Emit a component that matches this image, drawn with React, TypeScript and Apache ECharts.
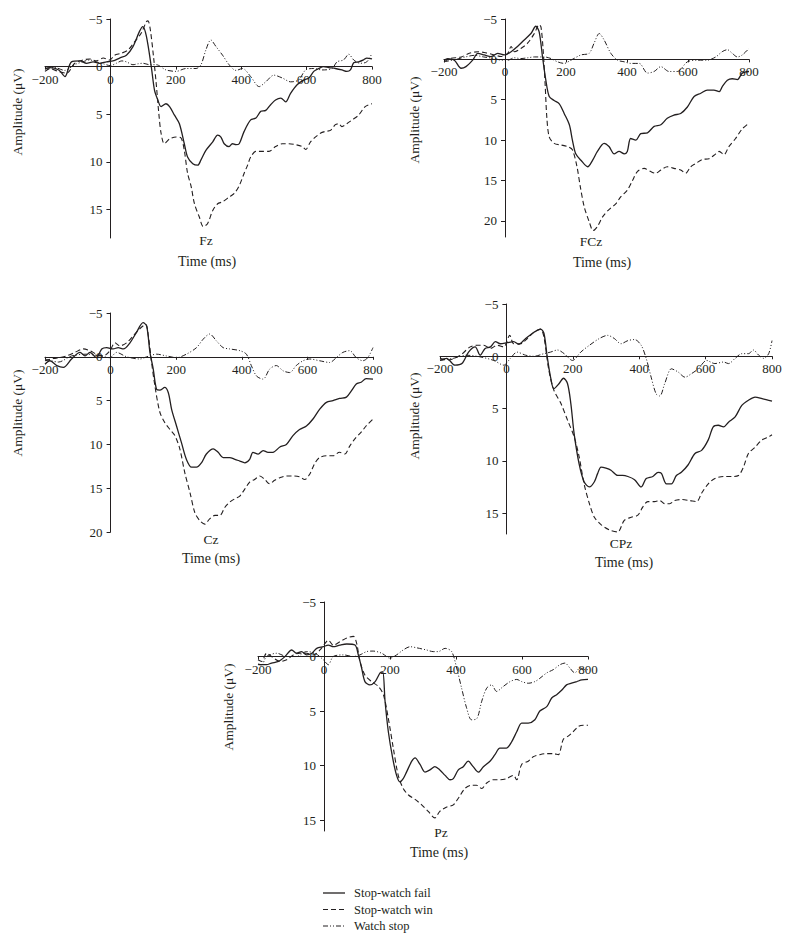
import React, { useEffect, useRef } from "react";
import * as echarts from "echarts";

// ---------- DATA (time in ms, amplitude in µV) ----------
const seriesNames = ["Stop-watch fail", "Stop-watch win", "Watch stop"];
const panelLabels = ["Fz", "FCz", "Cz", "CPz", "Pz"];
const xTicks = [-200, 0, 200, 400, 600, 800];
const yMaxes = [18, 22, 20, 17, 16];
const yTickFz = [-5, 0, 5, 10, 15];
const yTickFCz = [-5, 0, 5, 10, 15, 20];
const yTickCz = [-5, 0, 5, 10, 15, 20];
const yTickCPz = [-5, 0, 5, 10, 15];
const yTickPz = [-5, 0, 5, 10, 15];

const fzFail = [[-200,0.2],[-185,0.1],[-158,0.35],[-144,0.9],[-139,1.05],[-119,-0.5],[-93,-0.6],[-73,-0.35],[-53,-0.5],[-32,-0.35],[-12,-0.5],[8,-0.6],[28,-0.9],[49,-1.2],[69,-2.1],[89,-3.7],[99,-4.2],[110,-3.2],[125,0],[135,2.5],[145,3.5],[155,4.2],[170,3.9],[181,4.2],[196,5.1],[211,6],[226,8.1],[236,9.5],[252,10.2],[267,10.35],[277,9.8],[292,8.8],[313,7.9],[328,7.2],[338,7.4],[348,8.1],[363,8.4],[373,8.1],[384,8.2],[394,8.1],[409,6.8],[429,5.6],[445,5.4],[460,4.7],[475,4.6],[490,4],[505,3.5],[521,3.3],[536,3.7],[551,2.8],[571,1.9],[592,1.4],[607,1.2],[622,0.5],[637,0.2],[652,0],[668,0.1],[688,0.2],[708,0.35],[723,0.5],[734,0.35],[744,-0.4],[759,-0.5],[774,-0.7],[784,-0.9],[800,-0.8]];
const fzWin = [[-200,0.5],[-185,0.2],[-160,0.5],[-134,0.7],[-109,-0.35],[-83,-0.7],[-63,-0.8],[-43,-0.6],[-22,-0.9],[-2,-0.7],[13,-1.2],[33,-1.4],[54,-1.75],[74,-2.6],[94,-3.5],[110,-4.7],[115,-4.8],[122,-3.9],[132,-1],[140,1.75],[148,4.9],[155,7],[165,8.1],[181,7.6],[201,7.4],[216,7.5],[226,8.8],[236,11.2],[247,12.6],[257,14.4],[272,15.8],[284,16.8],[297,16.5],[313,15.1],[328,14.4],[343,14.2],[363,13.7],[379,13.3],[394,12.5],[409,11.2],[419,10.4],[429,9.5],[445,8.9],[465,8.9],[485,8.9],[505,8.4],[526,8.1],[546,8.1],[566,8.2],[587,8.4],[597,8.7],[612,7.9],[627,7.4],[642,7],[658,6.8],[673,6.7],[688,6.1],[698,6],[708,6.3],[723,6],[739,5.6],[759,5.1],[779,4.2],[800,3.9]];
const fzStop = [[-200,0.2],[-170,0.1],[-140,0.4],[-110,-0.2],[-85,-0.5],[-63,-0.7],[-43,-0.5],[-22,-0.3],[0,-0.1],[18,-0.35],[35,-0.6],[49,-0.5],[69,-0.2],[85,-0.3],[99,-0.35],[120,-0.2],[140,-0.2],[170,0.35],[201,0.5],[231,0.2],[262,0.2],[277,-0.2],[292,-1.75],[307,-2.8],[323,-2.1],[343,-1.2],[363,-0.2],[384,0.4],[404,0.2],[429,1.05],[455,2.1],[475,1.6],[500,0.9],[526,1.2],[551,1.6],[576,1.4],[597,0.35],[622,0.2],[647,0.35],[678,0.2],[693,-0.5],[713,-0.7],[729,-1.3],[744,-0.7],[764,-0.35],[784,-0.5],[800,-1.4]];

const fczFail = [[-200,0.1],[-188,-0.1],[-166,0.1],[-144,1.1],[-128,0.9],[-106,0.1],[-89,-0.75],[-68,-0.55],[-46,-0.35],[-24,-0.75],[-2,-0.55],[20,-0.95],[41,-1.6],[63,-2.4],[85,-3.2],[101,-4.1],[112,-3.4],[123,-0.3],[134,2.6],[145,4.6],[161,5.1],[178,5.5],[194,6.7],[211,8.1],[221,10],[232,11.7],[249,12.5],[271,13.3],[287,12.5],[303,11.4],[325,10.4],[341,10.8],[358,11.7],[374,11.4],[391,11.7],[401,11.4],[412,9.8],[429,10],[445,9.2],[467,9.1],[489,8.3],[511,8.1],[532,7.3],[554,6.9],[576,6.7],[598,5.9],[620,4.6],[642,4.2],[663,3.8],[685,3.8],[702,4],[712,3.4],[729,2.6],[745,2.4],[762,2.5],[778,1.7],[800,1.5]];
const fczWin = [[-200,0.3],[-180,-0.1],[-144,-0.3],[-117,-0.75],[-89,-0.95],[-68,-0.85],[-35,-0.55],[-13,-0.35],[9,-0.75],[20,-1.6],[31,-0.95],[52,-1.35],[74,-2],[96,-3.2],[112,-4.3],[118,-4],[125,-1.2],[132,3.4],[137,7.1],[145,9.6],[161,10.4],[183,10.6],[205,10.8],[221,11.2],[236,13.3],[247,15.8],[260,18.3],[276,20.1],[289,21.2],[303,20.7],[320,19.5],[341,18.6],[363,17.9],[380,17],[401,16.2],[418,15],[434,13.9],[456,13.5],[478,13.9],[494,14.1],[511,13.7],[532,13.3],[554,13.5],[576,13.7],[592,14.1],[609,13.3],[625,12.9],[647,12.4],[669,12.3],[691,11.7],[702,11.4],[718,11.8],[734,10.8],[756,9.8],[778,8.6],[800,7.9]];
const fczStop = [[-200,0.3],[-160,0],[-130,-0.3],[-100,-0.5],[-70,-0.3],[-35,-0.1],[-10,0.1],[9,0.1],[30,-0.2],[52,-0.1],[75,-0.2],[96,-0.3],[129,-0.3],[151,-0.1],[172,0.3],[194,0.5],[216,0.1],[249,-0.55],[276,-0.75],[292,-2],[309,-3.2],[325,-2.4],[347,-0.75],[369,0.1],[391,0.3],[412,0.5],[440,0.5],[467,1.7],[489,1.5],[511,0.9],[538,1.5],[565,1.5],[598,0.3],[631,0.1],[663,0.1],[691,-0.3],[712,-0.95],[729,-1.2],[745,-0.75],[762,-0.3],[778,-0.55],[800,-1.35]];

const czFail = [[-200,0.85],[-185,0.45],[-164,1],[-144,1.2],[-119,0.25],[-93,-0.5],[-78,-0.1],[-63,-0.5],[-43,0.1],[-27,-0.9],[-12,-1.05],[8,-0.9],[23,-1.05],[39,-0.9],[59,-1.6],[79,-2.8],[99,-3.9],[110,-3.5],[120,-0.5],[130,1.4],[140,3.7],[150,3.8],[165,3.5],[176,4.1],[186,6],[201,7.9],[216,9.8],[231,11.7],[247,12.6],[262,12.6],[277,12.1],[292,11.1],[313,10.5],[328,10.9],[343,11.5],[363,11.5],[379,11.7],[394,11.9],[409,12.1],[424,11.7],[434,10.9],[450,11.1],[465,10.7],[480,10.9],[495,10.9],[516,10.3],[536,10],[556,9],[576,8.3],[597,7.9],[617,7.1],[637,6],[658,5.2],[678,5],[698,4.75],[719,4.6],[734,3.9],[749,3.1],[764,2.9],[779,2.5],[800,2.55]];
const czWin = [[-200,0.45],[-175,0.2],[-150,0.05],[-134,-0.1],[-109,-0.5],[-83,-0.9],[-63,-0.7],[-43,-0.3],[-22,-0.1],[-2,-0.7],[13,-1.6],[28,-1.25],[49,-1.6],[69,-2.4],[89,-3.2],[107,-3.7],[115,-2.4],[125,0.65],[135,3.3],[150,6.3],[165,7.5],[181,8.3],[196,9],[211,10.5],[226,13.2],[242,15.5],[257,17.8],[272,18.7],[287,19.1],[302,18.5],[318,18.1],[333,18.1],[348,17.2],[363,16.6],[379,16.2],[394,15.9],[409,15.1],[424,14.3],[439,14],[455,13.6],[470,14],[485,14.5],[500,14.1],[516,13.8],[536,13.6],[556,13.6],[576,13.7],[592,14],[607,13.4],[622,12.2],[637,11.5],[658,11.3],[678,11.3],[698,10.9],[714,11.1],[729,10.2],[744,9.4],[764,8.6],[779,7.9],[800,7.1]];
const czStop = [[-200,0.25],[-159,0.6],[-119,-0.1],[-73,-0.3],[-32,-0.1],[-2,0.1],[18,-0.5],[49,0],[89,0.25],[110,0],[140,-0.3],[170,-0.1],[201,0.1],[231,-0.3],[262,-1.05],[282,-2],[302,-2.6],[323,-1.8],[343,-1.05],[363,-0.9],[394,-0.7],[414,-0.3],[429,1],[445,2.2],[465,2.55],[485,1.4],[505,1],[526,1.6],[546,1.8],[566,1],[587,0.45],[607,0.25],[637,0.45],[668,0.65],[688,0.1],[708,-0.5],[729,-0.7],[749,0.1],[769,0.45],[784,0.1],[800,-1.05]];

const cpzFail = [[-200,0.4],[-180,0.2],[-155,0.85],[-134,0.7],[-114,-0.4],[-94,-0.9],[-79,-0.1],[-64,-0.75],[-48,-0.9],[-33,-1.4],[-18,-1.2],[2,-1.3],[22,-1.4],[37,-1.15],[58,-1.7],[83,-2.3],[103,-2.6],[113,-2.2],[123,0.05],[133,2],[143,3.1],[159,2.6],[172,2.1],[184,2.6],[194,4.5],[204,7.4],[219,10.3],[234,12],[250,12.5],[265,12],[275,11.2],[285,10.6],[300,10.7],[315,10.9],[335,11.4],[350,11.4],[366,11.5],[386,11.8],[406,12.5],[421,11.7],[441,11.5],[457,11.1],[467,11.2],[482,12.2],[497,12.2],[512,11.4],[527,11.1],[547,10.4],[568,9.3],[588,9],[608,8],[623,6.75],[638,6.6],[654,6.75],[669,6.3],[689,5.8],[709,4.7],[729,4.2],[749,3.9],[770,4.05],[800,4.3]];
const cpzWin = [[-200,0.2],[-175,0.35],[-139,-0.1],[-109,-0.9],[-89,-1.05],[-68,-1.05],[-48,-0.75],[-28,-1.05],[-8,-0.9],[10,-2],[22,-1.2],[42,-1.2],[63,-1.7],[83,-2.3],[103,-2.6],[113,-1.85],[128,1.35],[143,3.25],[164,4.5],[184,6.1],[204,7.7],[219,9.6],[234,12.2],[250,14.1],[265,15.4],[285,16.1],[310,16.6],[335,16.8],[355,15.7],[376,15.4],[396,15.2],[411,14.4],[426,13.9],[446,13.9],[462,13.8],[477,14.1],[492,14.1],[507,13.8],[527,13.7],[552,13.8],[573,13.9],[588,13.1],[608,12.2],[628,11.7],[654,11.5],[679,11.5],[699,11.4],[714,10.6],[729,9.3],[749,8.7],[770,8],[790,7.7],[800,7.5]];
const cpzStop = [[-200,0.4],[-160,0.2],[-120,-0.1],[-80,0.05],[-38,0.4],[-8,0.85],[12,0.2],[32,-0.4],[58,-0.1],[83,0],[113,-0.25],[133,-0.4],[154,-0.6],[174,-0.25],[199,0.4],[224,-0.4],[250,-1.05],[280,-1.7],[305,-2],[325,-1.7],[345,-1.2],[366,-1.5],[386,-1.6],[406,-1.05],[421,0.2],[436,2],[451,3.6],[462,3.8],[477,2.6],[497,1.2],[517,1.5],[538,2],[558,1.65],[578,1.2],[603,0.4],[628,0.7],[654,0.55],[669,0.7],[689,0.2],[709,-0.25],[729,-0.25],[744,-0.6],[760,-0.1],[775,0.2],[790,-0.25],[800,-1.5]];

const pzFail = [[-200,0.7],[-189,0.75],[-174,0.75],[-159,0.6],[-138,0.45],[-118,0],[-98,-0.6],[-83,-0.3],[-68,-0.45],[-53,-0.15],[-37,-0.3],[-22,-0.75],[-2,-0.9],[13,-1.05],[28,-0.9],[48,-1.05],[69,-1.15],[94,-1.05],[104,-0.15],[114,1.05],[124,2.3],[139,2.6],[155,2.3],[170,1.5],[178,1.4],[185,4.1],[195,6.9],[208,9.3],[220,10.9],[230,11.5],[240,11.2],[250,10.6],[266,9.6],[276,9.3],[291,9.9],[306,10.6],[321,10.4],[336,10.1],[351,10.4],[367,10.9],[382,11.3],[392,11.2],[407,10.4],[422,10.1],[437,9.6],[452,10.1],[468,10.6],[483,10.1],[503,9.6],[518,9],[533,8.4],[553,8.4],[569,7.8],[584,6.9],[599,6.1],[619,6.1],[639,5.8],[654,5],[675,4.6],[690,3.8],[705,3.5],[720,3.1],[735,2.6],[750,2.45],[766,2.3],[781,2.15],[800,2.1]];
const pzWin = [[-200,0.3],[-189,0.45],[-174,-0.3],[-159,0],[-133,0.45],[-113,0.3],[-93,-0.15],[-73,-0.3],[-53,-0.3],[-32,-0.15],[-12,-0.6],[3,-1.2],[13,-1.5],[28,-1.05],[48,-1.35],[69,-1.7],[89,-1.85],[99,-1.2],[109,0.45],[124,1.7],[144,2.3],[165,2.75],[180,3.5],[195,5.7],[210,8.4],[225,10.9],[240,12.1],[256,12.7],[276,13.1],[296,13.6],[316,14.2],[336,14.8],[351,14.2],[372,13.8],[392,13.6],[407,13],[427,12.1],[447,11.8],[462,11.8],[478,12.1],[493,11.6],[513,11.3],[533,11.3],[553,11.2],[574,10.9],[584,11.3],[599,9.9],[619,9.6],[634,9.2],[654,9],[675,8.9],[695,8.9],[710,9],[725,7.6],[740,7.3],[755,6.9],[771,6.4],[786,6.3],[800,6.3]];
const pzStop = [[-200,0.75],[-189,0.75],[-174,0],[-143,-0.3],[-113,0],[-83,0],[-53,-0.45],[-27,-0.3],[-2,0.3],[13,0.75],[28,0],[59,-0.15],[89,0],[109,-0.15],[129,-0.45],[149,-0.5],[175,-0.3],[200,0.15],[220,-0.15],[240,-0.6],[261,-0.9],[281,-0.8],[311,-0.6],[331,-0.45],[346,-0.45],[367,-0.75],[387,-0.45],[402,1.05],[417,2.9],[432,4.7],[447,5.8],[463,5.7],[478,4.1],[493,2.9],[508,2.6],[523,3.2],[543,2.75],[564,2.3],[584,2.1],[599,2.3],[619,2.45],[639,2.3],[654,2],[675,1.5],[695,1.2],[715,0.75],[730,0.6],[745,1.05],[760,1.5],[776,1.05],[791,1.2],[800,1.2]];

// ---------- LAYOUT ----------
const FONT = "'Liberation Serif', 'Times New Roman', serif";
const INK = "#231f20";
const X_MIN = -200;
const X_MAX = 800;
const Y_MIN = -5;

const grids = [
  { left: 45, top: 19, width: 327, height: 219 },
  { left: 444, top: 19, width: 305, height: 218 },
  { left: 45, top: 313, width: 328, height: 219 },
  { left: 440, top: 304, width: 332, height: 230 },
  { left: 258, top: 602, width: 330, height: 229 },
];
const labelPos = [
  { el: [206, 240], time: [207, 261], amp: [17, 112] },
  { el: [591, 241], time: [602, 262], amp: [414, 120] },
  { el: [211, 539], time: [211, 558], amp: [17, 413] },
  { el: [621, 543], time: [624, 562], amp: [414, 416] },
  { el: [441, 832], time: [439, 852], amp: [228, 707] },
];
const legendPos = { x1: 323, x2: 345, textX: 354, rows: [893, 909.5, 926] };

const panelData = [
  [fzFail, fzWin, fzStop],
  [fczFail, fczWin, fczStop],
  [czFail, czWin, czStop],
  [cpzFail, cpzWin, cpzStop],
  [pzFail, pzWin, pzStop],
];
const yTicks = [yTickFz, yTickFCz, yTickCz, yTickCPz, yTickPz];

const dashes: any[] = [null, [5, 3], [5, 2, 1, 2, 1, 2]];
const widths = [1.3, 1.1, 1];

const fmt = (v: number) => String(v).replace("-", "\u2212");

export default function App() {
  const ref = useRef<HTMLDivElement>(null);
  useEffect(() => {
    if (!ref.current) return;
    const chart = echarts.init(ref.current, null, { renderer: "svg" });

    const xAxis = grids.map((g, i) => {
      const yMax = yMaxes[i];
      // shift the x axis from the grid bottom up to the amplitude-zero line
      const off = -(g.height * (yMax - 0)) / (yMax - Y_MIN);
      return {
        type: "value",
        gridIndex: i,
        position: "bottom",
        offset: off,
        min: X_MIN,
        max: X_MAX,
        interval: 200,
        axisLine: { onZero: false, lineStyle: { color: INK, width: 1 } },
        axisTick: { show: true, length: 3, lineStyle: { color: INK } },
        splitLine: { show: false },
        axisLabel: {
          margin: 6,
          color: INK,
          fontFamily: FONT,
          fontSize: 13,
          formatter: (v: number) => (xTicks.includes(v) ? fmt(v) : ""),
        },
      };
    });
    const yAxis = grids.map((g, i) => {
      // shift the y axis from the grid left edge to the time-zero line
      const off = -(g.width * (0 - X_MIN)) / (X_MAX - X_MIN);
      return {
        type: "value",
        gridIndex: i,
        position: "left",
        offset: off,
        inverse: true,
        min: Y_MIN,
        max: yMaxes[i],
        interval: 5,
        axisLine: { onZero: false, lineStyle: { color: INK, width: 1 } },
        axisTick: { show: true, length: 4, customValues: yTicks[i], lineStyle: { color: INK } },
        splitLine: { show: false },
        axisLabel: {
          margin: 8,
          color: INK,
          fontFamily: FONT,
          fontSize: 13,
          customValues: yTicks[i],
          formatter: (v: number) => (yTicks[i].includes(v) ? fmt(v) : ""),
        },
      };
    });

    const series: any[] = [];
    panelData.forEach((lines, i) => {
      lines.forEach((data, k) => {
        series.push({
          type: "line",
          name: seriesNames[k],
          xAxisIndex: i,
          yAxisIndex: i,
          data,
          symbol: "none",
          smooth: 0.3,
          lineStyle: { color: INK, width: widths[k], type: dashes[k] || "solid" },
          itemStyle: { color: INK },
          silent: true,
        });
      });
    });

    const graphic: any[] = [];
    labelPos.forEach((p, i) => {
      graphic.push({
        type: "text",
        x: p.el[0],
        y: p.el[1],
        style: { text: panelLabels[i], fill: INK, fontFamily: FONT, fontSize: 13.5, textAlign: "center", textVerticalAlign: "middle" },
      });
      graphic.push({
        type: "text",
        x: p.time[0],
        y: p.time[1],
        style: { text: "Time (ms)", fill: INK, fontFamily: FONT, fontSize: 14, textAlign: "center", textVerticalAlign: "middle" },
      });
      graphic.push({
        type: "text",
        x: p.amp[0],
        y: p.amp[1],
        rotation: Math.PI / 2,
        style: { text: "Amplitude (\u03bcV)", fill: INK, fontFamily: FONT, fontSize: 13.5, textAlign: "center", textVerticalAlign: "middle" },
      });
    });
    seriesNames.forEach((name, k) => {
      const y = legendPos.rows[k];
      graphic.push({
        type: "line",
        shape: { x1: legendPos.x1, y1: y, x2: legendPos.x2, y2: y },
        style: { stroke: INK, lineWidth: widths[k], lineDash: dashes[k] || null },
      });
      graphic.push({
        type: "text",
        x: legendPos.textX,
        y,
        style: { text: name, fill: INK, fontFamily: FONT, fontSize: 12.5, textAlign: "left", textVerticalAlign: "middle" },
      });
    });

    chart.setOption({
      animation: false,
      backgroundColor: "#ffffff",
      grid: grids.map((g) => ({ ...g, containLabel: false })),
      xAxis,
      yAxis,
      series,
      graphic,
    });
    return () => chart.dispose();
  }, []);

  return (
    <div
      ref={ref}
      style={{ position: "absolute", left: 0, top: 0, width: 788, height: 941, background: "#fff" }}
    />
  );
}
